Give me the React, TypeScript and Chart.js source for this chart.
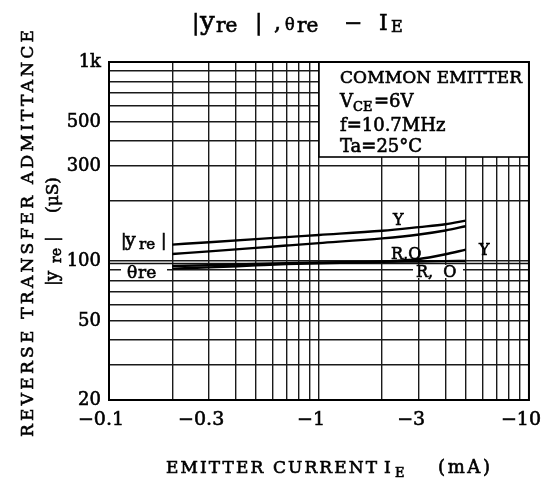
import React, { useEffect, useRef } from 'react';
import { Chart, registerables } from 'chart.js';

Chart.register(...registerables);

// Emitter current magnitude (mA); axis shows them as negative values
const IE_MA = [0.2, 0.3, 0.5, 0.7, 1, 2, 3, 4, 5];
// |yre| (µS) for rank Y and rank R,O
const YRE_Y = [120.8, 124.2, 128.7, 131.8, 135.1, 141.8, 148, 153, 159.4];
const YRE_RO = [108.4, 111.7, 116.4, 119.5, 122.9, 129.9, 135.9, 142.3, 149.4];
// θre curves (plotted on the same scale as in the datasheet)
const THETA_Y = [94.4, 95.1, 96.6, 97.5, 98.3, 99.4, 102.3, 108, 113.9];
const THETA_RO = [91.5, 92.8, 95.0, 96.4, 97.4, 98.9, 99.4, 99.8, 100];

const X_TICKS = [0.1, 0.2, 0.3, 0.4, 0.5, 0.6, 0.7, 0.8, 0.9, 1, 2, 3, 4, 5, 6, 7, 8, 9, 10];
const X_LABELED = [0.1, 0.3, 1, 3, 10];
const X_LABEL_TEXT = ['\u22120.1', '\u22120.3', '\u22121', '\u22123', '\u221210'];

const Y_TICKS = [20, 30, 40, 50, 60, 70, 80, 90, 100, 200, 300, 400, 500, 600, 700, 800, 900, 1000];
const Y_LABELED = [20, 50, 100, 300, 500, 1000];
const Y_LABEL_TEXT = ['20', '50', '100', '300', '500', '1k'];

const SERIF = '"DejaVu Serif", "Liberation Serif", serif';
const STROKE = 0.6;

type Part = { t: string; x: number; size: number; dy?: number };

function paint(ctx: CanvasRenderingContext2D, t: string, x: number, y: number) {
  ctx.fillText(t, x, y);
  ctx.lineWidth = STROKE;
  ctx.strokeStyle = '#000';
  ctx.strokeText(t, x, y);
}

function drawParts(ctx: CanvasRenderingContext2D, parts: Part[], baseY: number) {
  ctx.textAlign = 'left';
  ctx.textBaseline = 'alphabetic';
  (ctx as any).letterSpacing = '0px';
  for (const p of parts) {
    ctx.font = `${p.size}px ${SERIF}`;
    paint(ctx, p.t, p.x, baseY + (p.dy || 0));
  }
}

function drawFit(ctx: CanvasRenderingContext2D, text: string, x: number, y: number, width: number, size: number) {
  ctx.font = `${size}px ${SERIF}`;
  ctx.textBaseline = 'alphabetic';
  (ctx as any).letterSpacing = '0px';
  const w = ctx.measureText(text).width;
  const n = text.length;
  const ls = n > 1 ? (width - w) / (n - 1) : 0;
  (ctx as any).letterSpacing = `${ls}px`;
  ctx.textAlign = 'left';
  paint(ctx, text, x, y);
  (ctx as any).letterSpacing = '0px';
}

const annotations = {
  id: 'annotations',
  beforeDatasetsDraw(chart: any) {
    const ctx: CanvasRenderingContext2D = chart.ctx;
    const { left, right, top, bottom } = chart.chartArea;
    const xs = chart.scales.x;
    const ys = chart.scales.y;
    ctx.save();
    // double line at 100
    const y100 = ys.getPixelForValue(100);
    ctx.strokeStyle = '#111';
    ctx.lineWidth = 1.4;
    ctx.beginPath();
    ctx.moveTo(left, y100 + 2.6);
    ctx.lineTo(right, y100 + 2.6);
    ctx.stroke();
    // condition box
    const bx = xs.getPixelForValue(1);
    const by = top + 95;
    ctx.fillStyle = '#fff';
    ctx.fillRect(bx, top, right - bx, by - top);
    ctx.strokeStyle = '#000';
    ctx.lineWidth = 1.6;
    ctx.strokeRect(bx, top, right - bx, by - top);
    // frame
    ctx.lineWidth = 2;
    ctx.strokeRect(left, top, right - left, bottom - top);
    // white backgrounds behind labels sitting on gridlines
    ctx.fillStyle = '#fff';
    ctx.fillRect(121, 265, 46, 15);
    ctx.fillRect(413, 265, 50, 13);
    ctx.restore();
  },
  afterDraw(chart: any) {
    const ctx: CanvasRenderingContext2D = chart.ctx;
    ctx.save();
    ctx.fillStyle = '#000';
    // title
    drawParts(ctx, [
      { t: '|', x: 192, size: 22 },
      { t: 'y', x: 200, size: 26 },
      { t: 're', x: 216, size: 20, dy: 2 },
      { t: '|', x: 255, size: 22 },
      { t: ',', x: 274, size: 22 },
      { t: '\u03b8', x: 285, size: 16 },
      { t: 're', x: 297, size: 20, dy: 2 },
      { t: '\u2212', x: 344, size: 22 },
      { t: 'I', x: 379, size: 22 },
      { t: 'E', x: 391, size: 16, dy: 2 },
    ], 30);

    // x axis title
    drawFit(ctx, 'EMITTER CURRENT', 166, 473, 211, 17);
    drawParts(ctx, [
      { t: 'I', x: 384, size: 17 },
      { t: 'E', x: 395, size: 13, dy: 4 },
    ], 473);
    drawFit(ctx, '(mA)', 438, 473, 52, 18);

    // y axis title (rotated)
    ctx.save();
    ctx.translate(33, 437);
    ctx.rotate(-Math.PI / 2);
    drawFit(ctx, 'REVERSE TRANSFER ADMITTANCE', 0, 0, 407, 17);
    ctx.restore();
    ctx.save();
    ctx.translate(58, 0);
    ctx.rotate(-Math.PI / 2);
    drawParts(ctx, [
      { t: '|', x: -286, size: 17 },
      { t: 'y', x: -281, size: 18 },
      { t: 're', x: -263, size: 14, dy: 3 },
      { t: '|', x: -242, size: 17 },
      { t: '(\u03bcS)', x: -213, size: 17 },
    ], 0);
    ctx.restore();

    // condition text
    drawFit(ctx, 'COMMON EMITTER', 340, 83, 182, 17);
    drawParts(ctx, [
      { t: 'V', x: 340, size: 18 },
      { t: 'CE', x: 353, size: 13, dy: 4 },
      { t: '=6V', x: 374, size: 18 },
    ], 107);
    drawParts(ctx, [{ t: 'f=10.7MHz', x: 340, size: 18 }], 131);
    drawParts(ctx, [{ t: 'Ta=25\u00b0C', x: 340, size: 18 }], 152);

    // curve labels
    drawParts(ctx, [
      { t: '|', x: 121, size: 16 },
      { t: 'y', x: 125, size: 19 },
      { t: 're', x: 139, size: 15, dy: 3 },
      { t: '|', x: 161, size: 16 },
    ], 246);
    drawParts(ctx, [
      { t: '\u03b8', x: 127, size: 17 },
      { t: 're', x: 138, size: 17 },
    ], 278);
    drawParts(ctx, [{ t: 'Y', x: 393, size: 16 }], 225);
    drawParts(ctx, [{ t: 'R,O', x: 391, size: 16 }], 259);
    drawParts(ctx, [{ t: 'Y', x: 479, size: 16 }], 255);
    drawParts(ctx, [{ t: 'R,  O', x: 416, size: 16 }], 277);
    ctx.restore();
  },
};

export default function App() {
  const ref = useRef<HTMLCanvasElement | null>(null);
  useEffect(() => {
    if (!ref.current) return;
    const mk = (arr: number[]) => IE_MA.map((x, i) => ({ x, y: arr[i] }));
    const ds = (data: { x: number; y: number }[]) => ({
      data,
      borderColor: '#000',
      borderWidth: 2.4,
      pointRadius: 0,
      fill: false,
      cubicInterpolationMode: 'monotone' as const,
    });
    const gridColor = '#1a1a1a';
    const chart = new Chart(ref.current, {
      type: 'line',
      data: {
        datasets: [ds(mk(YRE_Y)), ds(mk(YRE_RO)), ds(mk(THETA_Y)), ds(mk(THETA_RO))],
      },
      options: {
        animation: false,
        responsive: false,
        devicePixelRatio: 1,
        layout: { padding: { left: 0, right: 25, top: 62, bottom: 0 } },
        plugins: { legend: { display: false }, tooltip: { enabled: false }, title: { display: false } },
        scales: {
          x: {
            type: 'logarithmic',
            min: 0.1,
            max: 10,
            afterBuildTicks: (s: any) => {
              s.ticks = X_TICKS.map((v) => ({ value: v }));
            },
            afterFit: (s: any) => {
              s.height = 89;
            },
            ticks: {
              autoSkip: false,
              maxRotation: 0,
              padding: 9,
              labelOffset: -8,
              color: '#000',
              textStrokeColor: '#000',
              textStrokeWidth: STROKE,
              font: { family: SERIF, size: 19 },
              callback: (v: any) => {
                const i = X_LABELED.findIndex((t) => Math.abs(t - Number(v)) < 1e-9);
                return i >= 0 ? X_LABEL_TEXT[i] : '';
              },
            },
            grid: { color: gridColor, lineWidth: 1.4, drawTicks: false, tickLength: 0 },
            border: { display: true, color: '#000', width: 2 },
          },
          y: {
            type: 'logarithmic',
            min: 20,
            max: 1000,
            afterBuildTicks: (s: any) => {
              s.ticks = Y_TICKS.map((v) => ({ value: v }));
            },
            afterFit: (s: any) => {
              s.width = 109;
            },
            ticks: {
              autoSkip: false,
              padding: 8,
              color: '#000',
              textStrokeColor: '#000',
              textStrokeWidth: STROKE,
              font: { family: SERIF, size: 18 },
              callback: (v: any) => {
                const i = Y_LABELED.findIndex((t) => Math.abs(t - Number(v)) < 1e-9);
                return i >= 0 ? Y_LABEL_TEXT[i] : '';
              },
            },
            grid: { color: gridColor, lineWidth: 1.4, drawTicks: false, tickLength: 0 },
            border: { display: true, color: '#000', width: 2 },
          },
        },
      },
      plugins: [annotations],
    });
    return () => chart.destroy();
  }, []);
  return (
    <div style={{ position: 'fixed', left: 0, top: 0, width: 558, height: 489, background: '#fff' }}>
      <canvas ref={ref} width={558} height={489} style={{ width: 558, height: 489, display: 'block' }} />
    </div>
  );
}
